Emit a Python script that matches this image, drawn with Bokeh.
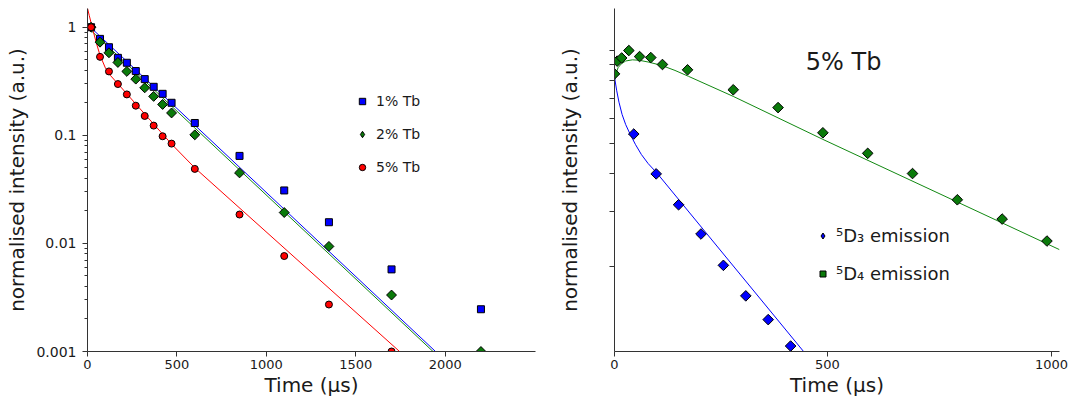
import numpy as np
from bokeh.plotting import figure
from bokeh.layouts import row
from bokeh.models import (Range1d, FixedTicker, CustomJSTickFormatter, Legend,
                          LegendItem, Label)
from bokeh.embed import file_html
from bokeh.resources import INLINE

# ---------------- left panel data ----------------
t_meas = [20, 70, 120, 170, 220, 270, 320, 370, 420, 470, 600, 850, 1100, 1350, 1700, 2200]
tb1 = [1.0, 0.78, 0.653, 0.521, 0.469, 0.393, 0.331, 0.281, 0.242, 0.200,
       0.130, 0.0645, 0.0309, 0.0157, 0.00575, 0.00246]
tb2 = [1.0, 0.727, 0.580, 0.472, 0.390, 0.331, 0.275, 0.229, 0.193, 0.161,
       0.101, 0.0449, 0.0193, 0.00938, 0.00333, 0.00100]
t_meas5 = [20, 70, 120, 170, 220, 270, 320, 370, 420, 470, 600, 850, 1100, 1350, 1700]
tb5 = [1.0, 0.532, 0.390, 0.298, 0.239, 0.188, 0.151, 0.123, 0.098, 0.0838,
       0.0489, 0.0185, 0.00764, 0.00272, 0.00100]

fit1_t = [0, 600, 1946]
fit1_v = [1.06, 0.124, 0.001]
fit2_t = [0, 600, 1932]
fit2_v = [1.0, 0.117, 0.001]
fit5_t = [0, 10, 20, 35, 50, 70, 100, 130, 170, 270, 370, 470, 600, 1745]
fit5_v = [1.5, 1.28, 1.1, 0.88, 0.71, 0.55, 0.42, 0.355, 0.30, 0.195, 0.127, 0.083, 0.050, 0.001]

left_yticks = [0.001, 0.01, 0.1, 1]
left_xticks = [0, 500, 1000, 1500, 2000]

# ---------------- right panel data ----------------
t_d3 = [68, 118, 168, 218, 268, 318, 368, 418]
d3 = [0.536, 0.398, 0.316, 0.254, 0.201, 0.160, 0.134, 0.110]
t_d4 = [25, 31, 41, 57, 81, 106, 132, 188, 290, 390, 490, 590, 690, 790, 890, 990]
d4 = [0.84, 0.924, 0.946, 1.0, 0.956, 0.949, 0.901, 0.866, 0.746, 0.653,
      0.541, 0.464, 0.399, 0.328, 0.284, 0.241]
fit_d3_t = [25, 30, 35, 42, 50, 60, 72, 85, 100, 120, 446]
fit_d3_v = [0.82, 0.74, 0.68, 0.62, 0.575, 0.535, 0.495, 0.46, 0.43, 0.40, 0.106]
fit_d4_t = [25, 28, 33, 40, 50, 65, 80, 100, 130, 160, 190, 290, 490, 1018]
fit_d4_v = [0.80, 0.84, 0.88, 0.905, 0.925, 0.933, 0.93, 0.918, 0.895, 0.862,
            0.825, 0.71, 0.515, 0.226]
right_yticks = [0.2, 0.3, 0.4, 0.5, 0.6, 0.7, 0.8, 0.9, 1.0]
right_xticks = [25, 500, 1000]

FONT = "DejaVu Sans"
BLUE = "#0000ff"
GREEN = "#0a7a0a"
RED = "#ff0000"
TXT = "#1a1a1a"
AX = "#333333"


def style_axes(p):
    for ax in (p.xaxis[0], p.yaxis[0]):
        ax.axis_line_color = AX
        ax.major_tick_line_color = AX
        ax.minor_tick_line_color = AX
        ax.major_tick_in = 0
        ax.major_tick_out = 5
        ax.minor_tick_in = 0
        ax.minor_tick_out = 3
        ax.axis_label_text_font = FONT
        ax.axis_label_text_font_style = "normal"
        ax.axis_label_text_font_size = "20px"
        ax.axis_label_text_color = TXT
        ax.major_label_text_font = FONT
        ax.major_label_text_color = TXT
    p.xaxis.major_label_text_font_size = "13px"
    p.yaxis.major_label_text_font_size = "14px"
    p.xaxis.minor_tick_line_color = None
    p.grid.visible = False
    p.outline_line_color = None


def make_legend(items, loc, spacing, glyph, label_h, font_size):
    return Legend(items=items, location=loc, padding=0, margin=0,
                  spacing=spacing, glyph_width=glyph, glyph_height=glyph,
                  label_height=label_h, label_standoff=6,
                  border_line_color=None, background_fill_alpha=0,
                  inactive_fill_alpha=0,
                  label_text_font=FONT, label_text_font_size=font_size,
                  label_text_color=TXT)


# ---------------- left figure ----------------
p1 = figure(width=554, height=405, y_axis_type="log",
            x_range=Range1d(0, 2505), y_range=Range1d(0.001, 1.49),
            output_backend="svg", toolbar_location=None,
            min_border_left=87, min_border_right=19,
            min_border_top=8, min_border_bottom=53)
style_axes(p1)
p1.xaxis.axis_label = "Time (μs)"
p1.yaxis.axis_label = "normalised intensity (a.u.)"
p1.xaxis.ticker = FixedTicker(ticks=left_xticks)
minor_left = [m * d for d in (0.001, 0.01, 0.1) for m in range(2, 10)]
p1.yaxis.ticker = FixedTicker(ticks=left_yticks, minor_ticks=minor_left)
p1.yaxis.formatter = CustomJSTickFormatter(code="return String(tick)")
p1.yaxis.major_label_standoff = 6
p1.yaxis.axis_label_standoff = 4
p1.xaxis.major_label_standoff = 3
p1.xaxis.axis_label_standoff = 1

p1.line(fit1_t, fit1_v, line_color=BLUE, line_width=1)
p1.line(fit2_t, fit2_v, line_color="#118811", line_width=1)
p1.line(fit5_t, fit5_v, line_color=RED, line_width=1)
r1 = p1.scatter(t_meas, tb1, marker="square", size=7, fill_color=BLUE,
                line_color="black", line_width=1)
r2 = p1.scatter(t_meas, tb2, marker="square", angle=np.pi / 4, size=7,
                fill_color=GREEN, line_color="black", line_width=1)
r5 = p1.scatter(t_meas5, tb5, marker="circle", size=7, fill_color=RED,
                line_color="black", line_width=1)
# legend-only glyph (diamond shape) for the 2% series
r2_key = p1.scatter(t_meas, tb2, marker="diamond", size=7, fill_color=GREEN,
                    line_color="black", line_width=1, visible=False)

leg1 = make_legend([LegendItem(label="1% Tb", renderers=[r1]),
                    LegendItem(label="2% Tb", renderers=[r2_key]),
                    LegendItem(label="5% Tb", renderers=[r5])],
                   (267, 176), 17, 16, 14, "14px")
p1.add_layout(leg1)

# ---------------- right figure ----------------
p2 = figure(width=521, height=405, y_axis_type="log",
            x_range=Range1d(25, 1018), y_range=Range1d(0.1056, 1.369),
            output_backend="svg", toolbar_location=None,
            min_border_left=58, min_border_right=16,
            min_border_top=6, min_border_bottom=54)
style_axes(p2)
p2.xaxis.axis_label = "Time (μs)"
p2.yaxis.axis_label = "normalised intensity (a.u.)"
p2.xaxis.ticker = FixedTicker(ticks=right_xticks)
p2.xaxis.major_label_overrides = {25: "0", 500: "500", 1000: "1000"}
p2.yaxis.ticker = FixedTicker(ticks=right_yticks, minor_ticks=[])
p2.yaxis.formatter = CustomJSTickFormatter(code="return ''")
p2.yaxis.major_label_standoff = 0
p2.yaxis.axis_label_standoff = 28
p2.xaxis.major_label_standoff = 3
p2.xaxis.axis_label_standoff = 1

p2.line(fit_d4_t, fit_d4_v, line_color="#118811", line_width=1)
p2.line(fit_d3_t, fit_d3_v, line_color=BLUE, line_width=1)
rd4 = p2.scatter(t_d4, d4, marker="square", angle=np.pi / 4, size=7.5,
                 fill_color=GREEN, line_color="black", line_width=1)
rd3 = p2.scatter(t_d3, d3, marker="square", angle=np.pi / 4, size=7.5,
                 fill_color=BLUE, line_color="black", line_width=1)
# legend-only glyphs
rd3_key = p2.scatter(t_d3, d3, marker="diamond", size=7.5, fill_color=BLUE,
                     line_color="black", line_width=1, visible=False)
rd4_key = p2.scatter(t_d4, d4, marker="square", size=7.5, fill_color=GREEN,
                     line_color="black", line_width=1, visible=False)

leg2 = make_legend([LegendItem(label="⁵D₃ emission", renderers=[rd3_key]),
                    LegendItem(label="⁵D₄ emission", renderers=[rd4_key])],
                   (201, 67), 17, 15, 18, "18px")
leg2.label_standoff = 6
p2.add_layout(leg2)

p2.add_layout(Label(x=452, y=0.92, text="5% Tb", text_font=FONT,
                    text_font_size="24px", text_color=TXT,
                    text_align="left", text_baseline="alphabetic"))

layout = row(p1, p2)
open("out.html", "w").write(file_html(layout, INLINE))
